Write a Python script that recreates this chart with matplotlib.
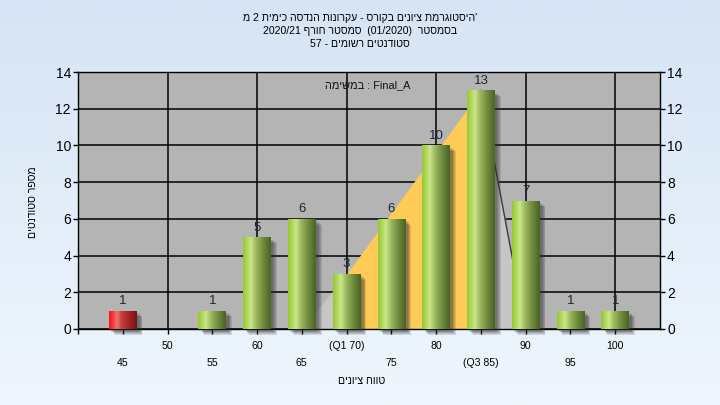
import re
import numpy as np
import matplotlib
matplotlib.use("Agg")
import matplotlib.pyplot as plt
import matplotlib.patheffects as pe
from matplotlib.colors import LinearSegmentedColormap

plt.rcParams['font.family'] = ['Liberation Sans', 'DejaVu Sans']

# ---------------- data ----------------
scores = [45, 50, 55, 60, 65, 70, 75, 80, 85, 90, 95, 100]
counts = [1, 0, 1, 5, 6, 3, 6, 10, 13, 7, 1, 1]
tick_labels = ['45', '50', '55', '60', '65', '(Q1 70)', '75', '80', '(Q3 85)', '90', '95', '100']
fail_below = 55
area_scores = [65, 70, 85, 90]
area_counts = [0, 3, 13, 0]
q1_score, q3_score = 70, 85
y_ticks = [0, 2, 4, 6, 8, 10, 12, 14]

title_l1 = "היסטוגרמת ציונים בקורס - עקרונות הנדסה כימית 2 מ"
title_l2 = "בסמסטר  (01/2020)  סמסטר חורף 2020/21"
title_l3 = "סטודנטים רשומים - 57"
task_word = "במשימה"
task_name = "Final_A"
x_title = "טווח ציונים"
y_title = "מספר סטודנטים"

MIRROR = {'(': ')', ')': '('}


def visual(s):
    """logical RTL string -> visual (left-to-right glyph) order"""
    runs = re.findall(r'[0-9A-Za-z_/.]+|[^0-9A-Za-z_/.]+', s)
    out = []
    for r in reversed(runs):
        if re.match(r'[0-9A-Za-z_/.]', r):
            out.append(r)
        else:
            out.append(''.join(MIRROR.get(c, c) for c in reversed(r)))
    return ''.join(out)


W, H = 720, 405
fig = plt.figure(figsize=(W / 100, H / 100), dpi=100)

# background gradient
bg = fig.add_axes([0, 0, 1, 1], zorder=-10)
top = np.array([214, 228, 245]) / 255
bot = np.array([239, 246, 253]) / 255
t = np.linspace(0, 1, 256)[:, None]
grad = (top[None, :] * (1 - t) + bot[None, :] * t)[:, None, :]
bg.imshow(grad, aspect='auto', extent=[0, 1, 0, 1], interpolation='bilinear')
bg.axis('off')

ax = fig.add_axes([78 / W, 76 / H, 582 / W, 257 / H])
ax.set_facecolor('#b4b4b4')

idx = np.arange(len(scores))
pos_of = {s: i for i, s in enumerate(scores)}

# area (Q1..Q3 highlight)
ax_x = [pos_of[s] for s in area_scores]
ax.fill_between(ax_x[0:2], area_counts[0:2], color='#c6c6c6', zorder=1.5, lw=0)
ax.fill_between(ax_x[1:3], area_counts[1:3], color='#ffcb57', zorder=1.6, lw=0)
ax.fill_between(ax_x[2:4], area_counts[2:4], color='#c6c6c6', zorder=1.5, lw=0)
ax.plot(ax_x[2:4], area_counts[2:4], color='#3a3a3a', lw=1.0, zorder=1.7)

# bars
width = 0.62
bars = ax.bar(idx, counts, width=width, facecolor='none', edgecolor='none',
              zorder=3, clip_on=False)

green = LinearSegmentedColormap.from_list('g', [
    (0.0, (150 / 255, 198 / 255, 58 / 255)),
    (0.12, (172 / 255, 212 / 255, 80 / 255)),
    (0.28, (204 / 255, 230 / 255, 140 / 255)),
    (0.45, (160 / 255, 188 / 255, 98 / 255)),
    (0.72, (112 / 255, 140 / 255, 62 / 255)),
    (1.0, (74 / 255, 98 / 255, 36 / 255))])
red = LinearSegmentedColormap.from_list('r', [
    (0.0, (235 / 255, 25 / 255, 25 / 255)),
    (0.12, (250 / 255, 50 / 255, 50 / 255)),
    (0.28, (238 / 255, 115 / 255, 115 / 255)),
    (0.45, (200 / 255, 62 / 255, 62 / 255)),
    (0.75, (158 / 255, 34 / 255, 34 / 255)),
    (1.0, (118 / 255, 20 / 255, 20 / 255))])
ramp = np.linspace(0, 1, 128)[None, :]

shadow = [pe.SimplePatchShadow(offset=(o, -o), shadow_rgbFace=(0.18, 0.18, 0.18), alpha=0.14)
          for o in (4.2, 3.6, 3.0, 2.4, 1.8)]

for s, c, b in zip(scores, counts, bars):
    if c <= 0:
        continue
    b.set_path_effects(shadow + [pe.Normal()])
    cmap = red if s < fail_below else green
    x0 = b.get_x()
    im = ax.imshow(ramp, cmap=cmap, aspect='auto', interpolation='bilinear',
                   extent=[x0, x0 + b.get_width(), 0, b.get_height()], zorder=3.5)
    im.set_clip_path(b)
    ax.annotate(str(c), (b.get_x() + b.get_width() / 2, b.get_height()),
                xytext=(0, 2.5), textcoords='offset points', ha='center', va='bottom',
                fontsize=9.5, color='#1c2436', zorder=5)

ax.set_xlim(-1, len(scores))
ax.set_ylim(0, 14)
ax.set_yticks(y_ticks)
ax.grid(True, color='black', lw=1.1)
ax.set_axisbelow(True)
for sp in ax.spines.values():
    sp.set_color('black')
    sp.set_linewidth(1.0)

ax.tick_params(axis='y', which='both', left=True, right=True, labelleft=True,
               labelright=True, length=3.6, width=1, labelsize=10, pad=1.5, colors='black')

upper = [i for i in idx if i % 2 == 1]
lower = [i for i in idx if i % 2 == 0]
ax.set_xticks(upper, [tick_labels[i] for i in upper])
ax.set_xticks([-1] + lower, [''] + [tick_labels[i] for i in lower], minor=True)
ax.tick_params(axis='x', which='major', length=3.6, width=1, labelsize=7.6, pad=5)
ax.tick_params(axis='x', which='minor', length=3.6, width=1, labelsize=7.6, pad=17)
ax.xaxis.grid(False, which='minor')

# texts
fs_t = 7.6
fig.text(0.5, 1 - 18 / H, visual(title_l1) + "'", ha='center', va='center', fontsize=fs_t)
fig.text(0.5, 1 - 31 / H, visual(title_l2), ha='center', va='center', fontsize=fs_t)
fig.text(0.5, 1 - 44 / H, visual(title_l3), ha='center', va='center', fontsize=fs_t)
fig.text(368 / W, 1 - 85 / H, visual(task_word) + " : " + task_name,
         ha='center', va='center', fontsize=7.8, color='#111111')
fig.text(362 / W, 1 - 381 / H, visual(x_title), ha='center', va='center', fontsize=7.6)
fig.text(33 / W, 1 - 202 / H, visual(y_title), ha='center', va='center', fontsize=7.6,
         rotation=90)

fig.savefig('out.png', dpi=100)
